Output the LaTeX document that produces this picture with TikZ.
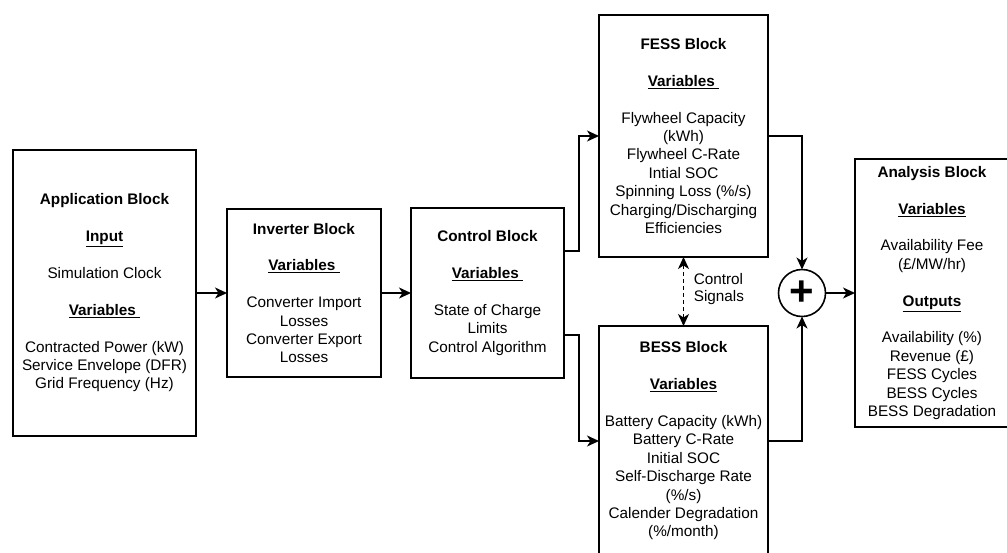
\documentclass[tikz,border=0pt]{standalone}
\usepackage{fontspec}
\setmainfont{Liberation Sans}
\usetikzlibrary{arrows.meta}

\newcommand\blkhead[1]{\textbf{#1}}
\newcommand\blksect[1]{\underline{\textbf{#1}\ }}
\newcommand\blkund[1]{\underline{\textbf{#1}}}
\newcommand\gap{\\[18.4pt]}

\begin{document}
\begin{tikzpicture}[x=1pt,y=-1pt,
  >={Stealth[length=12pt,width=11pt,inset=3.5pt]},line width=1.6pt,
  block/.style={draw,rectangle,align=center,inner sep=0pt,outer sep=0pt,font=\fontsize{15.3}{18.4}\selectfont},
  sum/.style={draw,circle,minimum size=47pt,inner sep=0pt,outer sep=0pt,font=\fontsize{42}{42}\selectfont\bfseries},
  lbl/.style={align=left,inner sep=0pt,font=\fontsize{15.3}{17.5}\selectfont}]
      \useasboundingbox (0,0) rectangle (1007,552);

     \node [block,minimum width=183pt,minimum height=286pt] (app) at (104.5,293)
       {\blkhead{Application Block}\gap \blkund{Input}\gap Simulation Clock\gap
        \blksect{Variables}\gap Contracted Power (kW)\\ Service Envelope (DFR)\\ Grid Frequency (Hz)};
     \node [block,minimum width=154pt,minimum height=168pt] (inv) at (304,293)
       {\blkhead{Inverter Block}\gap \blksect{Variables}\gap Converter Import\\ Losses\\
        Converter Export\\ Losses};
     \node [block,minimum width=153pt,minimum height=170pt] (ctrl) at (487.5,293)
       {\blkhead{Control Block}\gap \blksect{Variables}\gap State of Charge\\ Limits\\
        Control Algorithm};
     \node [block,minimum width=169pt,minimum height=242pt] (fess) at (683.5,136)
       {\blkhead{FESS Block}\gap \blksect{Variables}\gap Flywheel Capacity\\ (kWh)\\
        Flywheel C-Rate\\ Intial SOC\\ Spinning Loss (\%/s)\\ Charging/Discharging\\ Efficiencies};
     \node [block,minimum width=169pt,minimum height=230pt] (bess) at (683.5,441)
       {\blkhead{BESS Block}\gap \blkund{Variables}\gap Battery Capacity (kWh)\\
        Battery C-Rate\\ Initial SOC\\ Self-Discharge Rate\\ (\%/s)\\
        Calender Degradation\\ (\%/month)};
     \node [sum] (add) at (802,293) {+};
     \node [block,minimum width=154pt,minimum height=268pt] (ana) at (932,293)
       {\blkhead{Analysis Block}\gap \blkund{Variables}\gap Availability Fee\\ (£/MW/hr)\gap
        \blkund{Outputs}\gap Availability (\%)\\ Revenue (£)\\ FESS Cycles\\ BESS Cycles\\
        BESS Degradation};
     \node [lbl,anchor=west] (sig) at (693,289) {Control\\Signals};

     \draw [->] (app) -- (inv);
     \draw [->] (inv) -- (ctrl);
     \draw [->] ([yshift=42pt]ctrl.east) -- ++(15,0) |- (fess.west);
     \draw [->] ([yshift=-42pt]ctrl.east) -- ++(15,0) |- (bess.west);
     \draw [->] (fess.east) -| (add.north);
     \draw [->] (bess.east) -| (add.south);
     \draw [->] (add) -- (ana);
     \draw [<->,dash pattern=on 4pt off 3pt] (fess) -- (bess);

  \end{tikzpicture}
\end{document}
